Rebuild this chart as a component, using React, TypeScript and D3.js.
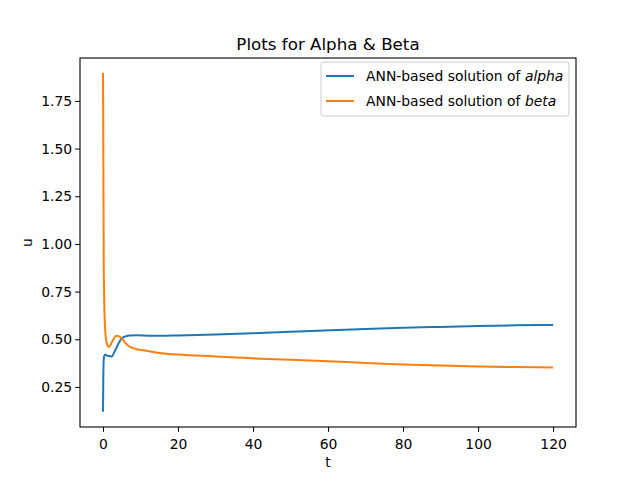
import React, { useRef, useEffect } from "react";
import * as d3 from "d3";

const alphaT = [0, 0.1, 0.27, 0.6, 0.9, 1.5, 2.3, 3.2, 4.2, 5, 6, 7.2, 9, 12, 15, 20, 30, 40, 50, 60, 70, 80, 90, 100, 110, 120];
const alphaU = [0.12, 0.33, 0.41, 0.42, 0.417, 0.412, 0.41, 0.44, 0.48, 0.505, 0.515, 0.52, 0.521, 0.519, 0.518, 0.52, 0.525, 0.532, 0.54, 0.547, 0.554, 0.56, 0.565, 0.57, 0.573, 0.575];
const betaT = [0, 0.05, 0.1, 0.2, 0.3, 0.5, 1.0, 1.6, 2.5, 3.6, 5, 6, 7.2, 9, 11.6, 15, 20, 30, 40, 50, 60, 70, 80, 90, 100, 110, 120];
const betaU = [1.897, 1.7, 1.4, 0.9, 0.74, 0.58, 0.48, 0.46, 0.49, 0.518, 0.505, 0.48, 0.46, 0.448, 0.44, 0.428, 0.42, 0.41, 0.40, 0.393, 0.385, 0.376, 0.368, 0.362, 0.357, 0.354, 0.352];
const xTicks = [0, 20, 40, 60, 80, 100, 120];
const yTicks = [0.25, 0.5, 0.75, 1.0, 1.25, 1.5, 1.75];

export default function App() {
  const ref = useRef<SVGSVGElement>(null);

  useEffect(() => {
    if (!ref.current) return;
    const svg = d3.select(ref.current);
    svg.selectAll("*").remove();
    const left = 80, right = 576, top = 58, bottom = 427;

    const x = d3.scaleLinear().domain([-6.13, 126.1]).range([left, right]);
    const y = d3.scaleLinear().domain([0.04, 1.975]).range([bottom, top]);

    const font = "DejaVu Sans, sans-serif";

    const line = d3.line<[number, number]>()
      .x(d => x(d[0])).y(d => y(d[1]))
      .curve(d3.curveMonotoneX);

    const series = [
      { t: alphaT, u: alphaU, color: "#1f77b4" },
      { t: betaT, u: betaU, color: "#ff7f0e" },
    ];
    series.forEach(s => {
      svg.append("path")
        .datum(s.t.map((t, i) => [t, s.u[i]] as [number, number]))
        .attr("fill", "none").attr("stroke", s.color).attr("stroke-width", 2)
        .attr("d", line);
    });

    const xa = svg.append("g").attr("transform", `translate(0,${bottom})`)
      .call(d3.axisBottom(x).tickValues(xTicks).tickFormat(d3.format("d")).tickSizeOuter(0).tickSize(4.9));
    const ya = svg.append("g").attr("transform", `translate(${left},0)`)
      .call(d3.axisLeft(y).tickValues(yTicks).tickFormat(d3.format(".2f")).tickSizeOuter(0).tickSize(4.9));
    [xa, ya].forEach(g => {
      g.select(".domain").remove();
      g.selectAll("text").attr("font-family", font).attr("font-size", 13.9).attr("fill", "#000");
    });
    xa.selectAll("text").attr("dy", "1.0em");

    svg.append("rect").attr("x", left).attr("y", top)
      .attr("width", right - left).attr("height", bottom - top)
      .attr("fill", "none").attr("stroke", "#000").attr("stroke-width", 1.1);

    svg.append("text").attr("x", (left + right) / 2).attr("y", 50)
      .attr("text-anchor", "middle").attr("font-family", font).attr("font-size", 16.7)
      .text("Plots for Alpha & Beta");
    svg.append("text").attr("x", (left + right) / 2).attr("y", 467)
      .attr("text-anchor", "middle").attr("font-family", font).attr("font-size", 13.9).text("t");
    svg.append("text").attr("transform", `translate(32,${(top + bottom) / 2}) rotate(-90)`)
      .attr("text-anchor", "middle").attr("font-family", font).attr("font-size", 13.9).text("u");

    // legend
    svg.append("rect").attr("x", 321).attr("y", 62).attr("width", 248).attr("height", 54)
      .attr("rx", 3).attr("fill", "#fff").attr("fill-opacity", 0.8)
      .attr("stroke", "#ccc").attr("stroke-width", 1);
    const names = ["alpha", "beta"];
    series.forEach((s, i) => {
      const ly = 76 + i * 25;
      svg.append("line").attr("x1", 326).attr("x2", 354).attr("y1", ly).attr("y2", ly)
        .attr("stroke", s.color).attr("stroke-width", 2);
      const t = svg.append("text").attr("x", 366).attr("y", ly + 5)
        .attr("font-family", font).attr("font-size", 13.9);
      t.append("tspan").text("ANN-based solution of ");
      t.append("tspan").attr("font-style", "italic").text(names[i]);
    });
  }, []);

  return <svg ref={ref} width={640} height={480} style={{ position: "absolute", left: 0, top: 0 }} />;
}
